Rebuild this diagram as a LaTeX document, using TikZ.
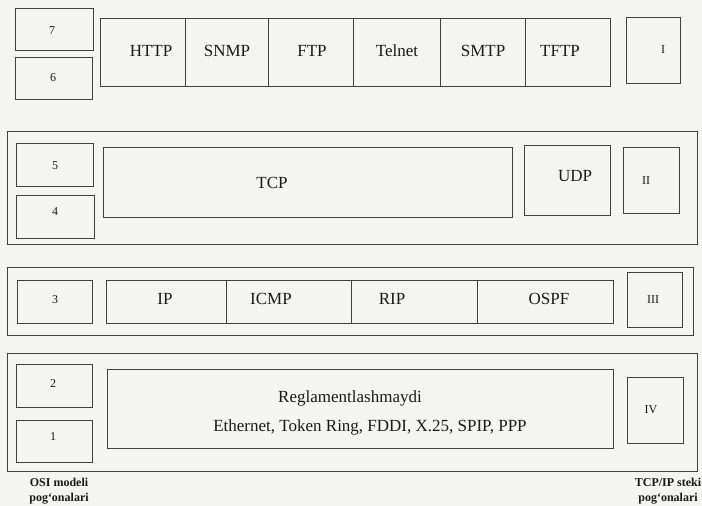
\documentclass[tikz,border=0pt]{standalone}
\usepackage{fontspec}
\setmainfont{Liberation Serif}
\usetikzlibrary{fit}
\definecolor{bg}{HTML}{F4F4F2}
\definecolor{ln}{HTML}{404040}
\definecolor{tx}{HTML}{1A1A1A}
\tikzset{
 box/.style={draw=ln, line width=1pt, inner sep=0pt},
 lbl/.style={text=tx, font=\fontsize{17}{20}\selectfont, inner sep=0pt},
 num/.style={text=tx, font=\fontsize{12}{14}\selectfont, inner sep=0pt},
 captxt/.style={text=tx, font=\bfseries\fontsize{12}{14.5}\selectfont, inner sep=0pt, align=center},
}
\begin{document}
\begin{tikzpicture}[x=1pt,y=-1pt]
\fill[bg] (0,0) rectangle (702,506);
\useasboundingbox (0,0) rectangle (702,506);
% ---- group 1 (application)
\node[box, fit={(15,8)(93,50)}] (b7) {};
\node[box, fit={(15,57)(92,99)}] (b6) {};
\node[box, fit={(100,18)(185,86)}] (http) {};
\node[box, fit={(185,18)(268,86)}] (snmp) {};
\node[box, fit={(268,18)(353,86)}] (ftp) {};
\node[box, fit={(353,18)(440,86)}] (telnet) {};
\node[box, fit={(440,18)(525,86)}] (smtp) {};
\node[box, fit={(525,18)(610,86)}] (tftp) {};
\node[box, fit={(626,17)(680,83)}] (r1) {};
\node[num] (t7) at (52,31) {7};
\node[num] (t6) at (53,78) {6};
\node[lbl] (thttp) at (151,51) {HTTP};
\node[lbl] (tsnmp) at (227,51) {SNMP};
\node[lbl] (tftp2) at (312,51) {FTP};
\node[lbl] (ttelnet) at (397,51) {Telnet};
\node[lbl] (tsmtp) at (483,51) {SMTP};
\node[lbl] (ttftp) at (560,51) {TFTP};
\node[num] (tr1) at (663,50) {I};
% ---- group 2 (transport)
\node[box, fit={(7,131)(697,244)}] (g2) {};
\node[box, fit={(16,143)(93,186)}] (b5) {};
\node[box, fit={(16,195)(94,238)}] (b4) {};
\node[box, fit={(103,147)(512,217)}] (tcp) {};
\node[box, fit={(524,145)(610,215)}] (udp) {};
\node[box, fit={(623,147)(679,213)}] (r2) {};
\node[num] (t5) at (55,166) {5};
\node[num] (t4) at (55,212) {4};
\node[lbl] (ttcp) at (272,183) {TCP};
\node[lbl] (tudp) at (575,176) {UDP};
\node[num] (tr2) at (646,181) {II};
% ---- group 3 (network)
\node[box, fit={(7,267)(693,335)}] (g3) {};
\node[box, fit={(17,280)(92,323)}] (b3) {};
\node[box, fit={(106,280)(226,323)}] (ip) {};
\node[box, fit={(226,280)(351,323)}] (icmp) {};
\node[box, fit={(351,280)(477,323)}] (rip) {};
\node[box, fit={(477,280)(613,323)}] (ospf) {};
\node[box, fit={(627,272)(682,327)}] (r3) {};
\node[num] (t3) at (55,300) {3};
\node[lbl] (tip) at (165,299) {IP};
\node[lbl] (ticmp) at (271,299) {ICMP};
\node[lbl] (trip) at (392,299) {RIP};
\node[lbl] (tospf) at (549,299) {OSPF};
\node[num] (tr3) at (653,300) {III};
% ---- group 4 (link)
\node[box, fit={(7,353)(697,471)}] (g4) {};
\node[box, fit={(16,364)(92,407)}] (b2) {};
\node[box, fit={(16,420)(92,462)}] (b1) {};
\node[box, fit={(107,369)(613,448)}] (link) {};
\node[box, fit={(627,377)(683,443)}] (r4) {};
\node[num] (t2) at (53,384) {2};
\node[num] (t1) at (53,437) {1};
\node[lbl] (treg) at (350,398) {Reglamentlashmaydi};
\node[lbl] (teth) at (370,427) {Ethernet, Token Ring, FDDI, X.25, SPIP, PPP};
\node[num] (tr4) at (651,410) {IV};
% ---- captions
\node[captxt] (cosi) at (59,491) {OSI modeli\\pog‘onalari};
\node[captxt] (ctcp) at (668,491) {TCP/IP steki\\pog‘onalari};
\end{tikzpicture}
\end{document}
